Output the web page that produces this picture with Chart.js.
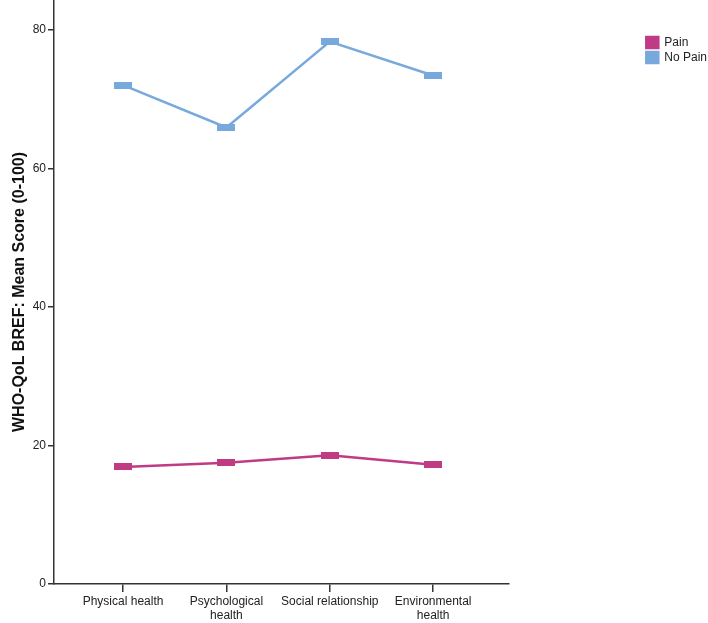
<!DOCTYPE html>
<html>
<head>
<meta charset="utf-8">
<script src="https://cdn.jsdelivr.net/npm/chart.js@4"></script>
<style>
  html, body { margin: 0; padding: 0; background: #fff; }
  #wrap { width: 708px; height: 623px; }
</style>
</head>
<body>
<div id="wrap"><canvas id="grafico" width="708" height="623"></canvas></div>
<script>
var categorias = [['Physical health'], ['Psychological', 'health'], ['Social relationship'], ['Environmental', 'health']];
var pain = [16.9, 17.5, 18.6, 17.2];
var noPain = [72.0, 65.9, 78.3, 73.4];
var yTicks = [0, 20, 40, 60, 80];

var corPain = '#C03A84';
var corNoPain = '#78A9DC';

function marcador(cor) {
    var c = document.createElement('canvas');
    c.width = 18;
    c.height = 7;
    var g = c.getContext('2d');
    g.fillStyle = cor;
    g.fillRect(0, 0, 18, 7);
    return c;
}

function pontos(valores) {
    return valores.map(function (v, i) { return { x: i, y: v }; });
}

var fonte = 'Arial, "Liberation Sans", sans-serif';

var ctx = document.getElementById('grafico').getContext('2d');
var chart = new Chart(ctx, {
    type: 'line',
    data: {
        datasets: [{
            label: 'Pain',
            data: pontos(pain),
            borderColor: corPain,
            backgroundColor: corPain,
            borderWidth: 2.5,
            pointStyle: marcador(corPain),
            pointRadius: 6,
            fill: false,
            clip: false
        }, {
            label: 'No Pain',
            data: pontos(noPain),
            borderColor: corNoPain,
            backgroundColor: corNoPain,
            borderWidth: 2.5,
            pointStyle: marcador(corNoPain),
            pointRadius: 6,
            fill: false,
            clip: false
        }]
    },
    options: {
        responsive: false,
        animation: false,
        layout: { autoPadding: false, padding: { top: 0, right: -9, bottom: 0, left: 0 } },
        plugins: {
            tooltip: { enabled: false },
            legend: {
                position: 'right',
                align: 'start',
                title: { display: true, text: ' ', padding: { top: 19, bottom: 0 }, font: { size: 12 } },
                labels: {
                    boxWidth: 12,
                    boxHeight: 11,
                    padding: 3,
                    color: '#222',
                    font: { family: fonte, size: 12 }
                }
            }
        },
        scales: {
            x: {
                type: 'linear',
                min: -0.668,
                max: 3.727,
                afterBuildTicks: function (scale) {
                    scale.ticks = categorias.map(function (_, i) { return { value: i }; });
                },
                afterFit: function (scale) { scale.height = 39; },
                ticks: {
                    autoSkip: false,
                    maxRotation: 0,
                    padding: 2,
                    color: '#222',
                    font: { family: fonte, size: 12 },
                    callback: function (v) { return categorias[v]; }
                },
                grid: { drawOnChartArea: false, drawTicks: true, tickLength: 8, color: '#333', lineWidth: 1.5 },
                border: { color: '#333', width: 1.5 }
            },
            y: {
                min: 0,
                max: 84.3,
                afterBuildTicks: function (scale) {
                    scale.ticks = yTicks.map(function (v) { return { value: v }; });
                },
                afterFit: function (scale) {
                    scale.width = 54;
                    scale.paddingTop = 0;
                    scale.paddingBottom = 0;
                },
                ticks: {
                    padding: 2,
                    color: '#222',
                    font: { family: fonte, size: 12 }
                },
                grid: { drawOnChartArea: false, drawTicks: true, tickLength: 6, color: '#333', lineWidth: 1.5 },
                border: { color: '#333', width: 1.5 },
                title: {
                    display: true,
                    text: 'WHO-QoL BREF: Mean Score (0-100)',
                    color: '#111',
                    padding: { top: 10, bottom: 0 },
                    font: { family: fonte, size: 16, weight: 'bold' }
                }
            },
            y2: {
                position: 'right',
                display: true,
                afterFit: function (scale) {
                    scale.width = 135;
                    scale.paddingTop = 0;
                    scale.paddingBottom = 0;
                },
                ticks: { display: false },
                grid: { display: false },
                border: { display: false }
            }
        }
    }
});
</script>
</body>
</html>
